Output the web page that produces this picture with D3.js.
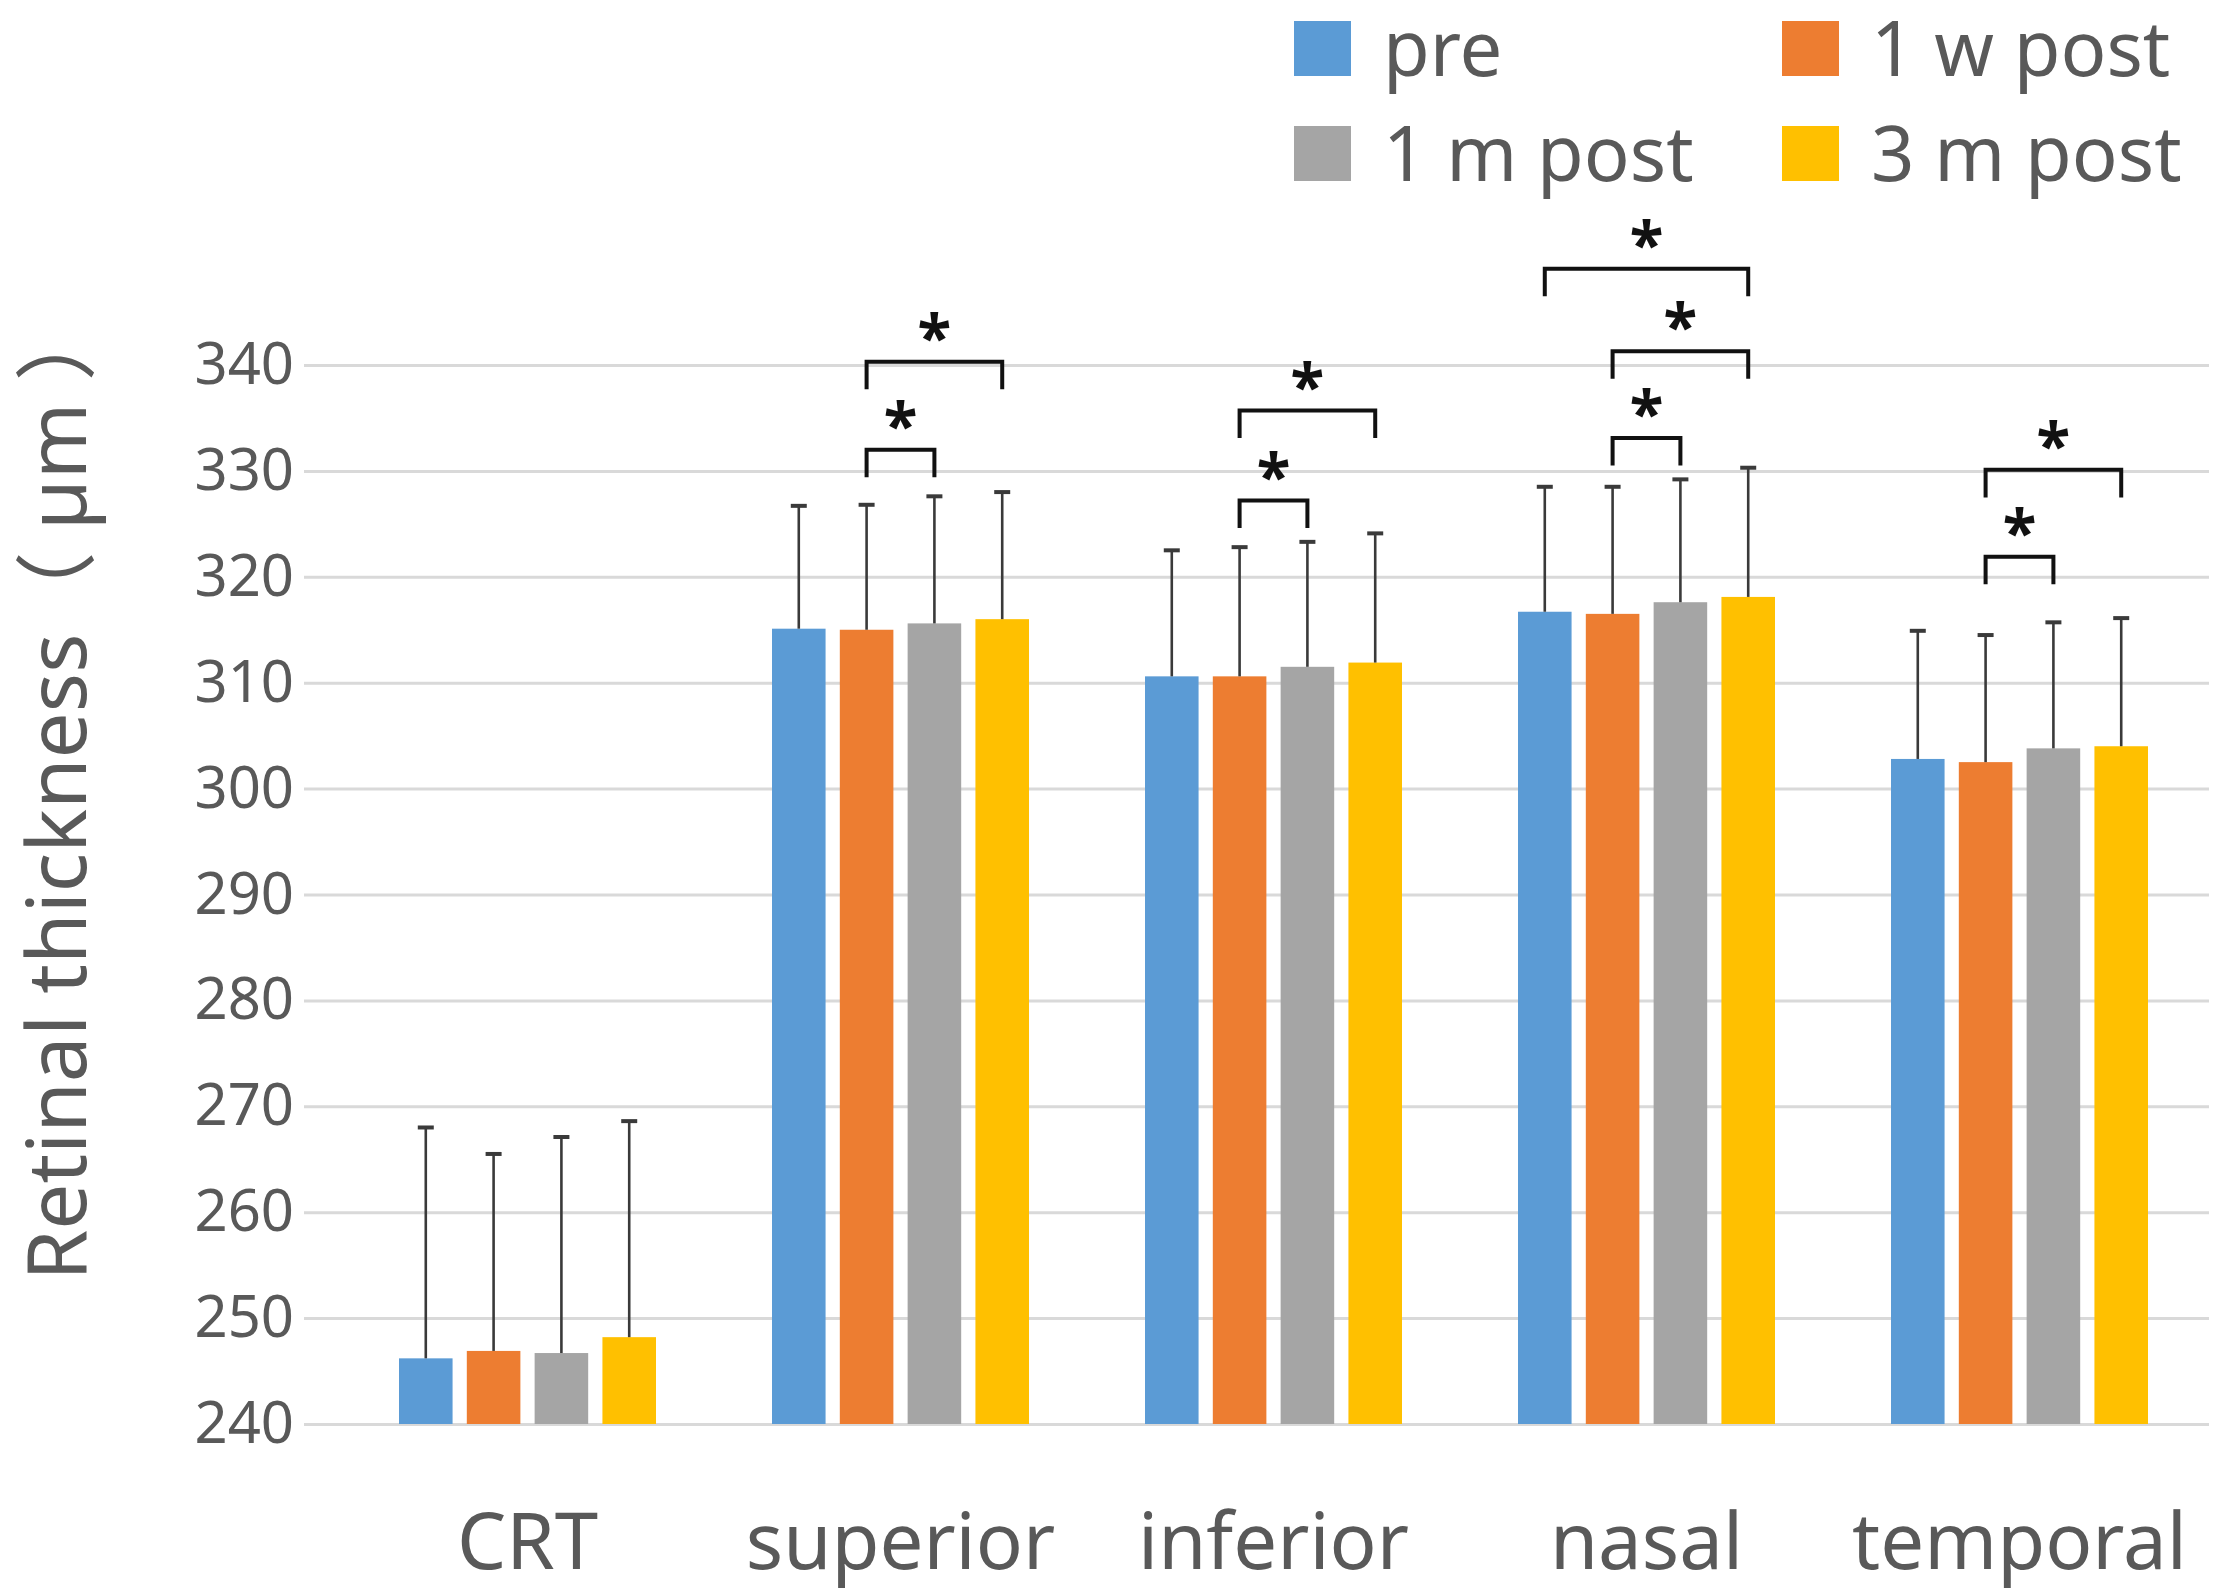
<!DOCTYPE html>
<html>
<head>
<meta charset="utf-8">
<script src="https://cdn.jsdelivr.net/npm/d3@7"></script>
<style>
  body { margin: 0; background: #fff; }
  text { font-family: "Noto Sans", "Noto Sans CJK SC", sans-serif; }
</style>
</head>
<body>
<div id="chart"></div>
<script>
// категории и серии
const categories = ["CRT", "superior", "inferior", "nasal", "temporal"];
const series = ["pre", "1 w post", "1 m post", "3 m post"];
const colors = ["#5B9BD5", "#ED7D31", "#A5A5A5", "#FFC000"];

// средние значения (по серии, по категориям)
const valPre   = [246.2, 315.1, 310.6, 316.7, 302.8];
const val1w    = [246.9, 315.0, 310.6, 316.5, 302.5];
const val1m    = [246.7, 315.6, 311.5, 317.6, 303.8];
const val3m    = [248.2, 316.0, 311.9, 318.1, 304.0];
// верх планки ошибок
const errPre   = [268.0, 326.7, 322.5, 328.5, 314.9];
const err1w    = [265.5, 326.8, 322.8, 328.5, 314.5];
const err1m    = [267.1, 327.6, 323.3, 329.2, 315.7];
const err3m    = [268.6, 328.0, 324.1, 330.3, 316.1];

const yTicks = [240, 250, 260, 270, 280, 290, 300, 310, 320, 330, 340];

// значимые различия: категория, от серии, до серии, уровень скобки
const sigCat   = ["superior", "superior", "inferior", "inferior", "nasal", "nasal", "nasal", "temporal", "temporal"];
const sigFrom  = ["1 w post", "1 w post", "1 w post", "1 w post", "1 w post", "1 w post", "pre", "1 w post", "1 w post"];
const sigTo    = ["1 m post", "3 m post", "1 m post", "3 m post", "1 m post", "3 m post", "3 m post", "1 m post", "3 m post"];
const sigLevel = [332.0, 340.3, 327.2, 335.7, 333.1, 341.3, 349.1, 321.9, 330.1];

const vals = [valPre, val1w, val1m, val3m];
const errs = [errPre, err1w, err1m, err3m];

const width = 2217, height = 1594;
const margin = {left: 304, right: 8, top: 365, bottom: 170};

const svg = d3.select("#chart").append("svg")
    .attr("width", width)
    .attr("height", height);

const yScale = d3.scaleLinear()
    .domain([240, 340])
    .range([height - margin.bottom, margin.top]);

const xScale = d3.scaleBand()
    .domain(categories)
    .range([341, 2206]);

const groupW = 257;
const xInner = d3.scaleBand()
    .domain(series)
    .range([-groupW / 2, groupW / 2])
    .paddingInner(0.21);

const grey = "#595959";

// сетка
const yAxis = d3.axisLeft(yScale)
    .tickValues(yTicks)
    .tickSize(-(width - margin.right - margin.left))
    .tickPadding(12);

const gy = svg.append("g")
    .attr("transform", `translate(${margin.left},0)`)
    .call(yAxis);
gy.select(".domain").remove();
gy.selectAll(".tick line").attr("stroke", "#D9D9D9").attr("stroke-width", 3);
gy.selectAll(".tick text")
    .attr("fill", grey)
    .attr("font-size", 58)
    .attr("x", -10);

// ось X (только подписи)
const gx = svg.append("g")
    .attr("transform", `translate(0,${height - margin.bottom})`)
    .call(d3.axisBottom(xScale).tickSize(0).tickPadding(90));
gx.select(".domain").remove();
gx.selectAll(".tick text")
    .attr("fill", grey)
    .attr("font-size", 78);

// данные для столбцов
const rows = [];
categories.forEach(function(c, ci) {
    series.forEach(function(s, si) {
        rows.push({cat: c, ser: s, si: si, value: vals[si][ci], top: errs[si][ci]});
    });
});

const bars = svg.append("g");
bars.selectAll("rect")
    .data(rows)
    .enter()
    .append("rect")
    .attr("x", d => xScale(d.cat) + xScale.bandwidth() / 2 + xInner(d.ser))
    .attr("y", d => yScale(d.value))
    .attr("width", xInner.bandwidth())
    .attr("height", d => yScale(240) - yScale(d.value))
    .attr("fill", d => colors[d.si]);

// планки ошибок
function cx(cat, ser) {
    return xScale(cat) + xScale.bandwidth() / 2 + xInner(ser) + xInner.bandwidth() / 2;
}
const eb = svg.append("g").attr("stroke", "#3a3a3a").attr("stroke-width", 2.6);
eb.selectAll(".stem")
    .data(rows)
    .enter()
    .append("line")
    .attr("x1", d => cx(d.cat, d.ser))
    .attr("x2", d => cx(d.cat, d.ser))
    .attr("y1", d => yScale(d.value))
    .attr("y2", d => yScale(d.top));
eb.selectAll(".cap")
    .data(rows)
    .enter()
    .append("line")
    .attr("stroke-width", 4)
    .attr("x1", d => cx(d.cat, d.ser) - 8)
    .attr("x2", d => cx(d.cat, d.ser) + 8)
    .attr("y1", d => yScale(d.top))
    .attr("y2", d => yScale(d.top));

// скобки значимости
const sig = sigCat.map((c, i) => ({cat: c, from: sigFrom[i], to: sigTo[i], level: sigLevel[i]}));
const legLen = 2.6;
const sg = svg.append("g");
sg.selectAll("path")
    .data(sig)
    .enter()
    .append("path")
    .attr("fill", "none")
    .attr("stroke", "#111")
    .attr("stroke-width", 4)
    .attr("d", function(d) {
        const x1 = cx(d.cat, d.from), x2 = cx(d.cat, d.to);
        const y = yScale(d.level), yl = yScale(d.level - legLen);
        return `M${x1},${yl}V${y}H${x2}V${yl}`;
    });
sg.selectAll("text")
    .data(sig)
    .enter()
    .append("text")
    .attr("x", d => (cx(d.cat, d.from) + cx(d.cat, d.to)) / 2)
    .attr("y", d => yScale(d.level) - 2)
    .attr("text-anchor", "middle")
    .attr("font-family", "DejaVu Sans")
    .attr("font-weight", "bold")
    .attr("font-size", 62)
    .attr("fill", "#111")
    .text("*");

// легенда
const legX = [1294, 1782];
const legY = [21, 126];
const legend = svg.append("g");
series.forEach(function(s, i) {
    const lx = legX[i % 2], ly = legY[Math.floor(i / 2)];
    legend.append("rect")
        .attr("x", lx).attr("y", ly)
        .attr("width", 57).attr("height", 55)
        .attr("fill", colors[i]);
    legend.append("text")
        .attr("x", lx + 89).attr("y", ly + 55)
        .attr("fill", grey)
        .attr("font-size", 76)
        .text(s);
});

// подпись оси Y
svg.append("text")
    .attr("transform", `translate(86,${790}) rotate(-90)`)
    .attr("text-anchor", "middle")
    .attr("fill", grey)
    .attr("font-size", 82)
    .text("Retinal thickness（ µm ）");
</script>
</body>
</html>
